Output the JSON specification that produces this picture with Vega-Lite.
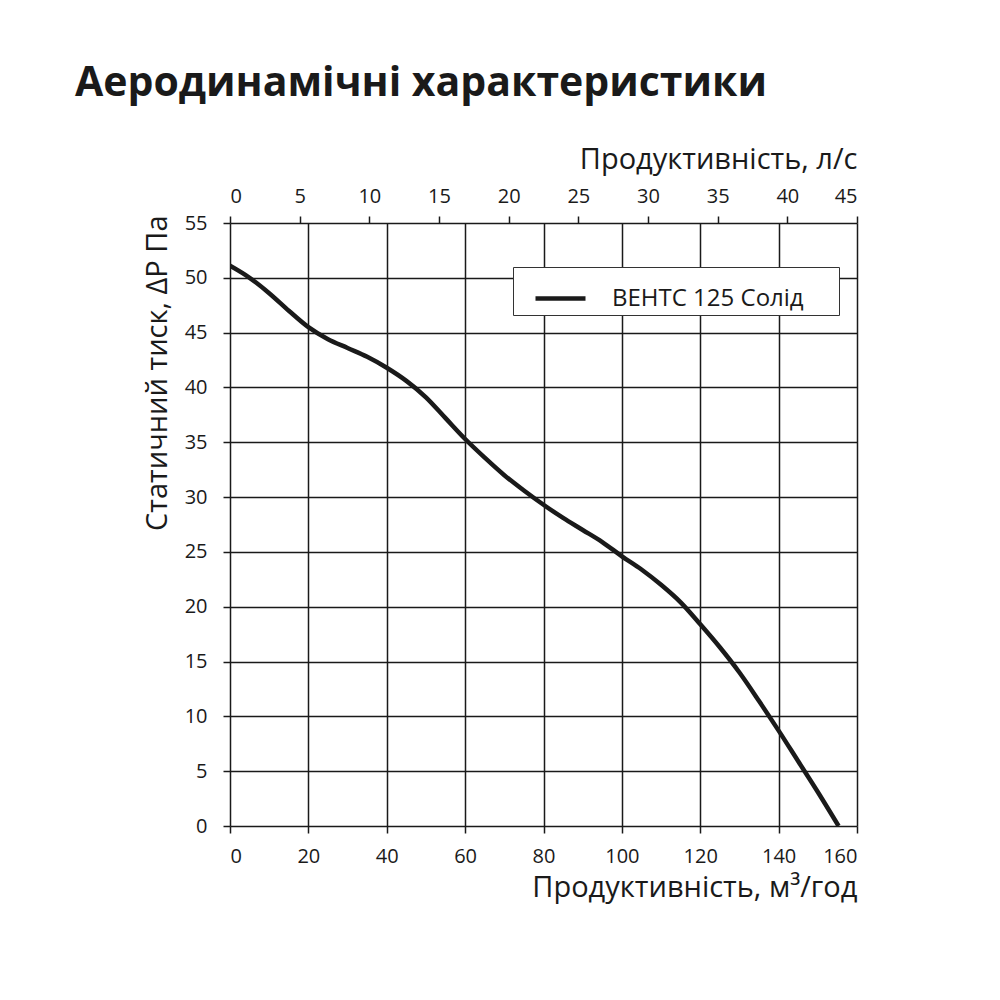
{
  "$schema": "https://vega.github.io/schema/vega-lite/v6.json",
  "description": "Aerodynamic characteristics of the VENTS 125 Solid fan.",
  "autosize": "none",
  "padding": {"left": 230, "top": 223, "right": 143, "bottom": 174},
  "width": 627,
  "height": 603,
  "background": "white",
  "title": {
    "text": "Аеродинамічні характеристики",
    "anchor": "start",
    "frame": "group",
    "dx": -155,
    "offset": 40,
    "fontSize": 41,
    "fontWeight": "bold",
    "font": "Open Sans",
    "color": "#1a1a1a"
  },
  "datasets": {
    "curve": [
      {"flow": 0, "pressure": 51.1, "model": "ВЕНТС 125 Солід"},
      {"flow": 5, "pressure": 50.0, "model": "ВЕНТС 125 Солід"},
      {"flow": 10, "pressure": 48.6, "model": "ВЕНТС 125 Солід"},
      {"flow": 15, "pressure": 47.0, "model": "ВЕНТС 125 Солід"},
      {"flow": 20, "pressure": 45.5, "model": "ВЕНТС 125 Солід"},
      {"flow": 25, "pressure": 44.4, "model": "ВЕНТС 125 Солід"},
      {"flow": 30, "pressure": 43.6, "model": "ВЕНТС 125 Солід"},
      {"flow": 35, "pressure": 42.8, "model": "ВЕНТС 125 Солід"},
      {"flow": 40, "pressure": 41.8, "model": "ВЕНТС 125 Солід"},
      {"flow": 45, "pressure": 40.6, "model": "ВЕНТС 125 Солід"},
      {"flow": 50, "pressure": 39.1, "model": "ВЕНТС 125 Солід"},
      {"flow": 55, "pressure": 37.2, "model": "ВЕНТС 125 Солід"},
      {"flow": 60, "pressure": 35.3, "model": "ВЕНТС 125 Солід"},
      {"flow": 65, "pressure": 33.6, "model": "ВЕНТС 125 Солід"},
      {"flow": 70, "pressure": 32.0, "model": "ВЕНТС 125 Солід"},
      {"flow": 75, "pressure": 30.6, "model": "ВЕНТС 125 Солід"},
      {"flow": 80, "pressure": 29.3, "model": "ВЕНТС 125 Солід"},
      {"flow": 85, "pressure": 28.1, "model": "ВЕНТС 125 Солід"},
      {"flow": 90, "pressure": 27.0, "model": "ВЕНТС 125 Солід"},
      {"flow": 95, "pressure": 25.9, "model": "ВЕНТС 125 Солід"},
      {"flow": 100, "pressure": 24.6, "model": "ВЕНТС 125 Солід"},
      {"flow": 105, "pressure": 23.4, "model": "ВЕНТС 125 Солід"},
      {"flow": 110, "pressure": 22.0, "model": "ВЕНТС 125 Солід"},
      {"flow": 115, "pressure": 20.4, "model": "ВЕНТС 125 Солід"},
      {"flow": 120, "pressure": 18.4, "model": "ВЕНТС 125 Солід"},
      {"flow": 125, "pressure": 16.3, "model": "ВЕНТС 125 Солід"},
      {"flow": 130, "pressure": 14.0, "model": "ВЕНТС 125 Солід"},
      {"flow": 135, "pressure": 11.4, "model": "ВЕНТС 125 Солід"},
      {"flow": 140, "pressure": 8.7, "model": "ВЕНТС 125 Солід"},
      {"flow": 145, "pressure": 5.9, "model": "ВЕНТС 125 Солід"},
      {"flow": 150, "pressure": 3.1, "model": "ВЕНТС 125 Солід"},
      {"flow": 155.3, "pressure": 0, "model": "ВЕНТС 125 Солід"}
    ],
    "litres": [
      {"ls": 0},
      {"ls": 45}
    ]
  },
  "layer": [
    {
      "data": {"name": "curve"},
      "mark": {"type": "line", "strokeWidth": 4.5, "interpolate": "monotone", "clip": true},
      "encoding": {
        "x": {
          "field": "flow",
          "type": "quantitative",
          "scale": {"domain": [0, 160], "nice": false},
          "axis": {
            "orient": "bottom",
            "values": [0, 20, 40, 60, 80, 100, 120, 140, 160],
            "title": "Продуктивність, м³/год",
            "titleAnchor": "end",
            "titleFontSize": 29,
            "titlePadding": 7
          }
        },
        "y": {
          "field": "pressure",
          "type": "quantitative",
          "scale": {"domain": [0, 55], "nice": false},
          "axis": {
            "values": [0, 5, 10, 15, 20, 25, 30, 35, 40, 45, 50, 55],
            "title": "Статичний тиск, ΔР Па",
            "titleAnchor": "end",
            "titleFontSize": 29,
            "titlePadding": 12,
            "titleY": -8,
            "labelPadding": 16
          }
        },
        "color": {
          "field": "model",
          "type": "nominal",
          "scale": {"range": ["#1a1a1a"]},
          "legend": {
            "title": null,
            "orient": "none",
            "legendX": 283,
            "legendY": 44,
            "strokeColor": "#333333",
            "fillColor": "white",
            "padding": 4,
            "symbolOffset": 16,
            "symbolType": "stroke",
            "symbolSize": 2500,
            "symbolStrokeWidth": 4.5,
            "labelFontSize": 24,
            "labelOffset": 24,
            "labelLimit": 400,
            "labelExpr": "datum.label + '\u00a0\u00a0\u00a0\u00a0\u00a0\u200b'",
            "labelColor": "#1a1a1a"
          }
        }
      }
    },
    {
      "data": {"name": "litres"},
      "mark": {"type": "point", "opacity": 0},
      "encoding": {
        "x": {
          "field": "ls",
          "type": "quantitative",
          "scale": {"domain": [0, 45], "nice": false},
          "axis": {
            "orient": "top",
            "grid": false,
            "values": [0, 5, 10, 15, 20, 25, 30, 35, 40, 45],
            "title": "Продуктивність, л/с",
            "titleAnchor": "end",
            "titleFontSize": 29,
            "titlePadding": 12,
            "labelPadding": 10
          }
        }
      }
    }
  ],
  "resolve": {"scale": {"x": "independent"}},
  "config": {
    "font": "Open Sans",
    "view": {"stroke": null},
    "axis": {
      "grid": true,
      "gridColor": "#1a1a1a",
      "gridWidth": 1.5,
      "gridOpacity": 1,
      "domain": false,
      "tickColor": "#1a1a1a",
      "tickWidth": 1.5,
      "tickSize": 7,
      "labelFontSize": 20,
      "labelColor": "#1a1a1a",
      "labelPadding": 13,
      "titleFontWeight": "normal",
      "titleColor": "#1a1a1a"
    }
  }
}
